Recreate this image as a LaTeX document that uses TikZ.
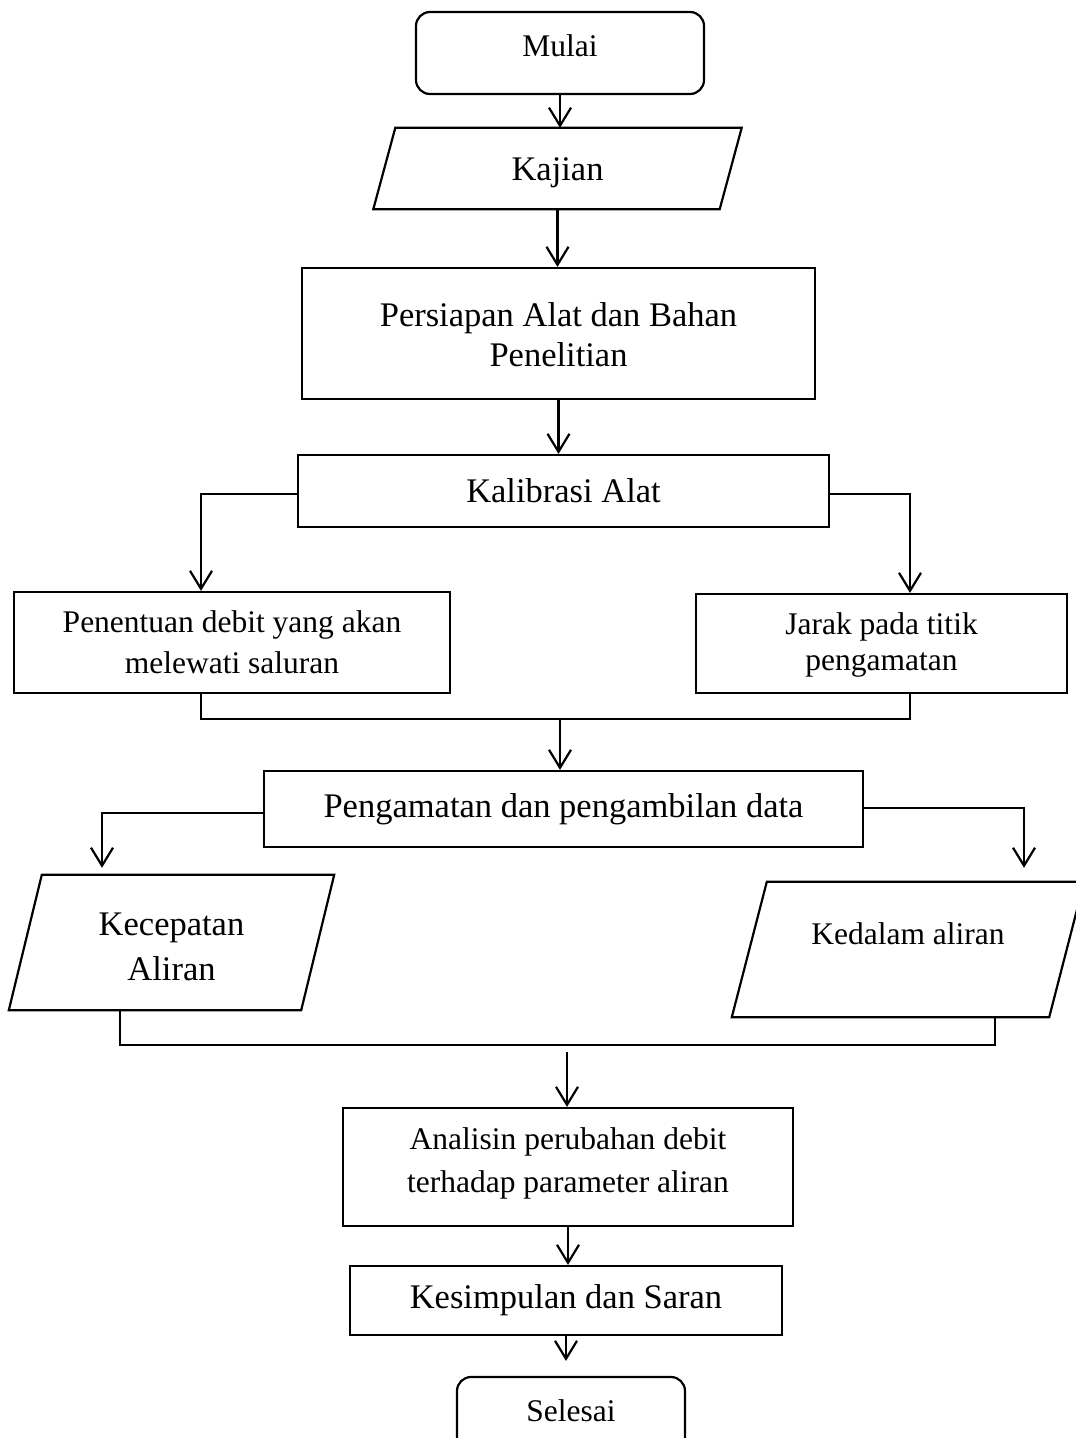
\documentclass[tikz,border=0pt]{standalone}
\usepackage{fontspec}
\setmainfont{Liberation Serif}
\usetikzlibrary{arrows.meta}
\newcommand\fbig{\fontsize{34.5}{40}\selectfont}
\newcommand\fsml{\fontsize{31.5}{37}\selectfont}
\begin{document}
\begin{tikzpicture}[x=1pt,y=-1pt,
  ln/.style={line width=2.2pt},
  arr/.style={ln,-{Straight Barb[length=18pt,width=22pt]}},
  box/.style={draw,ln,inner sep=0pt,align=center,font=\fbig},
  sbox/.style={box,font=\fsml},
  term/.style={sbox,rounded corners=14pt},
  para/.style={inner sep=0pt,align=center,font=\fbig}]
\useasboundingbox (0,0) rectangle (1076,1438);
\fill[white] (0,0) rectangle (1076,1438);

\node[term,minimum width=288,minimum height=82,text depth=14pt] (mulai) at (560,53) {Mulai};

\node[para,minimum width=346,minimum height=81,text height=30.8pt,text depth=7.5pt] (kajian) at (557.5,168.5) {Kajian};
\draw[ln] ([xshift=11pt]kajian.north west) -- ([xshift=11pt]kajian.north east)
  -- ([xshift=-11pt]kajian.south east) -- ([xshift=-11pt]kajian.south west) -- cycle;

\node[box,font=\fontsize{34.5}{40}\selectfont,minimum width=513,minimum height=131,text height=65pt,text depth=0pt] (persiapan) at (558.5,333.5) {Persiapan Alat dan Bahan\\Penelitian};
\node[box,minimum width=531,minimum height=72] (kalibrasi) at (563.5,491) {Kalibrasi Alat};
\node[sbox,font=\fontsize{31.5}{41}\selectfont,minimum width=436,minimum height=101,text height=61pt,text depth=0pt] (penentuan) at (232,642.5) {Penentuan debit yang akan\\melewati saluran};
\node[sbox,font=\fontsize{31.5}{36}\selectfont,minimum width=371,minimum height=99,text height=53pt,text depth=0pt] (jarak) at (881.5,643.5) {Jarak pada titik\\pengamatan};
\node[box,minimum width=599,minimum height=76] (pengamatan) at (563.5,809) {Pengamatan dan pengambilan data};

\node[para,font=\fontsize{34.5}{45}\selectfont,minimum width=292,minimum height=135,text height=75pt,text depth=0pt] (kecepatan) at (171.5,942.5) {Kecepatan\\Aliran};
\draw[ln] ([xshift=16.5pt]kecepatan.north west) -- ([xshift=16.5pt]kecepatan.north east)
  -- ([xshift=-16.5pt]kecepatan.south east) -- ([xshift=-16.5pt]kecepatan.south west) -- cycle;

\node[para,font=\fsml,minimum width=317,minimum height=135,text depth=32pt] (kedalam) at (908,949.5) {Kedalam aliran};
\draw[ln] ([xshift=17.5pt]kedalam.north west) -- ([xshift=17.5pt]kedalam.north east)
  -- ([xshift=-17.5pt]kedalam.south east) -- ([xshift=-17.5pt]kedalam.south west) -- cycle;

\node[sbox,font=\fontsize{31.5}{43}\selectfont,minimum width=450,minimum height=118,text height=50pt,text depth=0pt] (analisin) at (568,1167) {Analisin perubahan debit\\terhadap parameter aliran};
\node[box,minimum width=432,minimum height=69] (kesimpulan) at (566,1300.5) {Kesimpulan dan Saran};
\node[term,minimum width=228,minimum height=82,text depth=14pt] (selesai) at (571,1418) {Selesai};

\coordinate (join1) at (560,719);
\coordinate (join2) at (567,1045);

\draw[arr] (mulai.south) -- (mulai.south |- kajian.north);
\draw[arr] (kajian.south) -- (kajian.south |- persiapan.north);
\draw[arr] (persiapan.south) -- (persiapan.south |- kalibrasi.north);
\draw[arr] ([yshift=-3pt]kalibrasi.west) -| ([xshift=-31pt]penentuan.north);
\draw[arr] ([yshift=-3pt]kalibrasi.east) -| ([xshift=28.5pt]jarak.north);
\draw[ln] ([xshift=-31pt]penentuan.south) |- (join1) -| ([xshift=28.5pt]jarak.south);
\draw[arr] (join1) -- (join1 |- pengamatan.north);
\draw[arr] ([yshift=-4pt]pengamatan.west) -| ([xshift=-69.5pt,yshift=7pt]kecepatan.north);
\draw[arr] ([yshift=1pt]pengamatan.east) -| ([xshift=116pt,yshift=14pt]kedalam.north);
\draw[ln] ([xshift=-51.5pt]kecepatan.south) |- (join2) -| ([xshift=87pt]kedalam.south);
\draw[arr] ([yshift=-7pt]join2) -- (join2 |- analisin.north);
\draw[arr] (analisin.south) -- (analisin.south |- kesimpulan.north);
\draw[arr,shorten >=15pt] (kesimpulan.south) -- (kesimpulan.south |- selesai.north);
\end{tikzpicture}
\end{document}
